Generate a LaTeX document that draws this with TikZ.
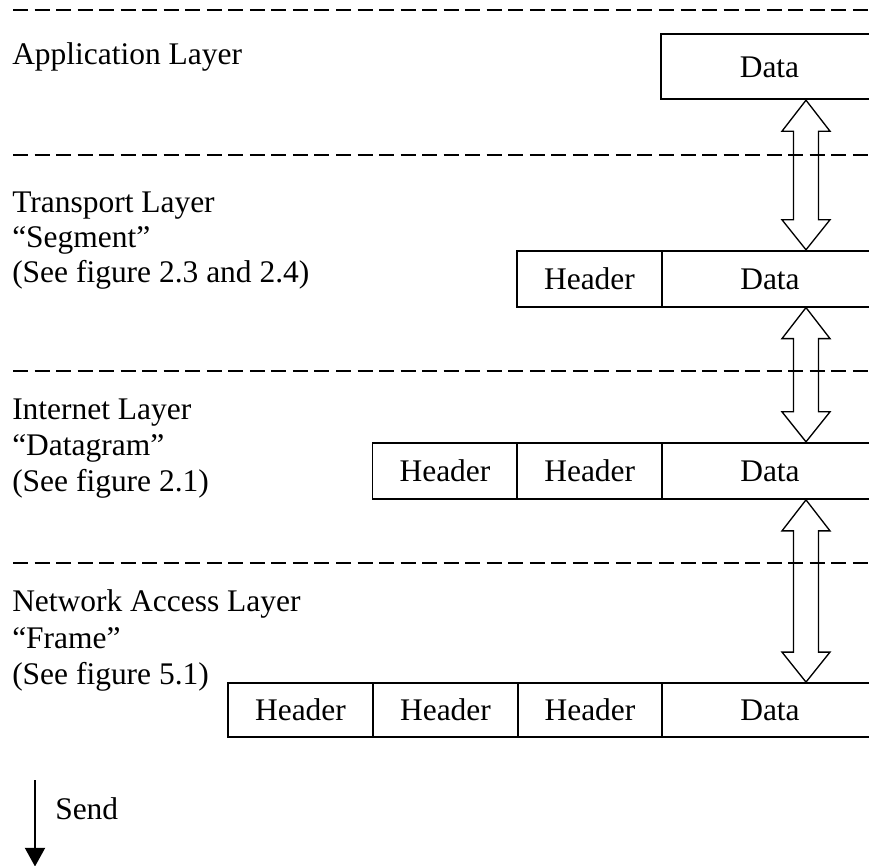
\documentclass[tikz,border=0pt]{standalone}
\usepackage{fontspec}
\setmainfont{Liberation Serif}
\usetikzlibrary{calc,arrows.meta}

% hollow double-headed block arrow between two tip points
\newcommand\dblarrow[2]{%
  \draw[blockarrow] (#1) -- ($(#1)+(24,31)$) -- ($(#1)+(12.5,31)$)
    -- ($(#2)+(12.5,-30)$) -- ($(#2)+(24,-30)$) -- (#2)
    -- ($(#2)+(-24,-30)$) -- ($(#2)+(-12.5,-30)$)
    -- ($(#1)+(-12.5,31)$) -- ($(#1)+(-24,31)$) -- cycle;}

\begin{document}
\begin{tikzpicture}[x=0.75pt,y=-0.75pt,
  every node/.style={font=\fontsize{23.6}{28}\selectfont},
  layertext/.style={anchor=base west, inner sep=0pt},
  cell/.style={draw, line width=1.35pt, inner sep=0pt,
    text height=15.6pt, text depth=0pt},
  headcell/.style={cell, minimum width=108.75pt},
  datacell/.style={cell, minimum width=162pt},
  separator/.style={line width=1.4pt, dash pattern=on 11.25pt off 4.9pt},
  blockarrow/.style={line width=1pt, line join=miter},
  sendarrow/.style={line width=1.5pt, -{Triangle[width=15pt,length=14pt]}}
]
\useasboundingbox (0,0) rectangle (869,866);
\clip (0,0) rectangle (869,866);

% layer separators
\foreach \yy in {10,155,371,563}
  \draw[separator] (13,\yy) -- (880,\yy);

% layer names
\node[layertext] (appL)  at (12,65)  {Application Layer};
\node[layertext] (tpL1)  at (12,213) {Transport Layer};
\node[layertext] (tpL2)  at (12,248) {“Segment”};
\node[layertext] (tpL3)  at (12,283) {(See figure 2.3 and 2.4)};
\node[layertext] (inL1)  at (12,420) {Internet Layer};
\node[layertext] (inL2)  at (12,456) {“Datagram”};
\node[layertext] (inL3)  at (12,492) {(See figure 2.1)};
\node[layertext] (naL1)  at (12,612) {Network Access Layer};
\node[layertext] (naL2)  at (12,648) {“Frame”};
\node[layertext] (naL3)  at (12,685) {(See figure 5.1)};

% application layer
\node[datacell, minimum width=162.75pt, minimum height=48.75pt]
  (appData) at (769.5,66.8) {Data};

% transport layer segment
\begin{scope}[every node/.append style={minimum height=42pt}]
\node[headcell] (tpHead) at (589.5,278.7) {Header};
\node[datacell] (tpData) at (770,278.7)   {Data};
\end{scope}

% internet layer datagram
\begin{scope}[every node/.append style={minimum height=42.2pt}]
\node[headcell] (inHead1) at (445,470.85)   {Header};
\node[headcell] (inHead2) at (589.75,470.85) {Header};
\node[datacell] (inData)  at (770,470.85)   {Data};
\end{scope}

% network access layer frame
\begin{scope}[every node/.append style={minimum height=40.5pt}]
\node[headcell] (naHead1) at (300.5,710) {Header};
\node[headcell] (naHead2) at (445.5,710) {Header};
\node[headcell] (naHead3) at (590,710)   {Header};
\node[datacell] (naData)  at (770,710)   {Data};
\end{scope}

% arrows between layers
\coordinate (axis) at (806,0);
\coordinate (u1) at (appData.south -| axis);
\coordinate (d1) at (tpData.north -| axis);
\coordinate (u2) at (tpData.south -| axis);
\coordinate (d2) at (inData.north -| axis);
\coordinate (u3) at (inData.south -| axis);
\coordinate (d3) at (naData.north -| axis);
\dblarrow{u1}{d1}
\dblarrow{u2}{d2}
\dblarrow{u3}{d3}

% send direction
\coordinate (sendStart) at (35,780);
\coordinate (sendEnd) at (35,866.5);
\draw[sendarrow] (sendStart) -- (sendEnd);
\node[layertext] (sendL) at (55,820) {Send};
\end{tikzpicture}
\end{document}
